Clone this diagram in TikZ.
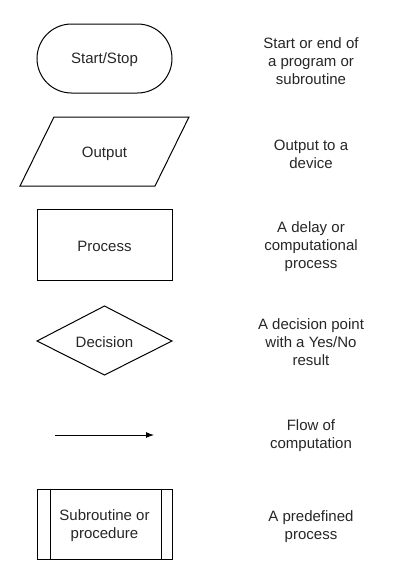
\documentclass[tikz,border=0pt]{standalone}
\usepackage{fontspec}
\setmainfont{Liberation Sans}
\usetikzlibrary{arrows.meta}
\begin{document}
\begin{tikzpicture}[x=1pt,y=-1pt,
  shp/.style={draw=black,line width=1pt},
  lbl/.style={font=\fontsize{15}{18}\selectfont,text=black!85,align=center,inner sep=0pt},
  desc/.style={lbl}]
\useasboundingbox (0,0) rectangle (411,584);
% Start/Stop
\node[shp,minimum width=135pt,minimum height=69pt,rounded corners=34.5pt] (start) at (104.5,58.5) {};
\node[lbl] (startt) at (104.5,60) {Start/Stop};
\node[desc] (startd) at (311,61.5) {Start or end of\\a program or\\subroutine};
% Output parallelogram
\node[lbl] (out) at (104.5,153.5) {Output};
\coordinate (o1) at (54,117);
\coordinate (o2) at (189,117);
\coordinate (o3) at (155,186);
\coordinate (o4) at (20,186);
\draw[shp] (o1) -- (o2) -- (o3) -- (o4) -- cycle;
\node[desc] (outd) at (311,154.5) {Output to a\\device};
% Process
\node[shp,minimum width=135pt,minimum height=71pt] (proc) at (104.5,244.5) {};
\node[lbl] (proct) at (104.5,246.5) {Process};
\node[desc] (procd) at (311,246.5) {A delay or\\computational\\process};
% Decision
\node[lbl] (dec) at (104.5,342.5) {Decision};
\coordinate (d1) at (104.5,306);
\coordinate (d2) at (172,341);
\coordinate (d3) at (104.5,375);
\coordinate (d4) at (37,341);
\draw[shp] (d1) -- (d2) -- (d3) -- (d4) -- cycle;
\node[desc] (decd) at (311,342.5) {A decision point\\with a Yes/No\\result};
% Flow
\coordinate (f1) at (55,435);
\coordinate (f2) at (154,435);
\draw[line width=1pt,-{Latex[length=8pt,width=6pt]}] (f1) -- (f2);
\node[desc] (flowd) at (311,435.5) {Flow of\\computation};
% Subroutine
\node[shp,minimum width=135pt,minimum height=70pt] (sub) at (104.5,524) {};
\node[lbl] (subt) at (104.5,526) {Subroutine or\\procedure};
\draw[shp] ([xshift=14pt]sub.north west) -- ([xshift=14pt]sub.south west);
\draw[shp] ([xshift=-11pt]sub.north east) -- ([xshift=-11pt]sub.south east);
\node[desc] (subd) at (311,526.5) {A predefined\\process};
\end{tikzpicture}
\end{document}
